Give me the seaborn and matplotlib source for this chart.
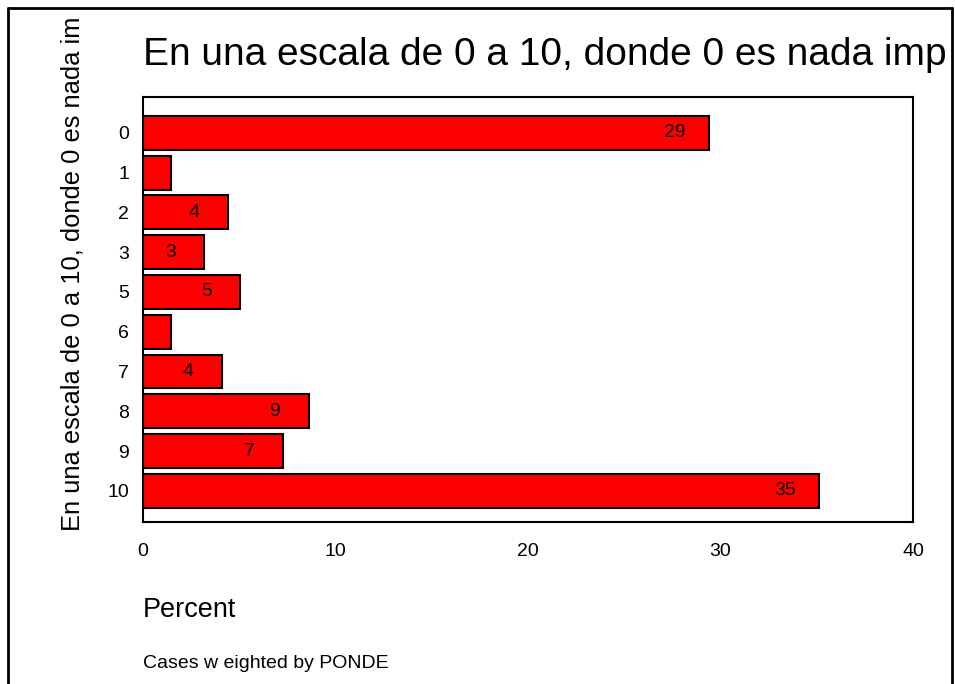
import matplotlib
matplotlib.use("Agg")
import matplotlib.pyplot as plt
import seaborn as sns
from matplotlib.transforms import Bbox

# data
categories = ['0', '1', '2', '3', '5', '6', '7', '8', '9', '10']
percents = [29.4, 1.45, 4.4, 3.17, 5.04, 1.45, 4.1, 8.6, 7.26, 35.1]
bar_labels = ['29', '', '4', '3', '5', '', '4', '9', '7', '35']
title_text = 'En una escala de 0 a 10, donde 0 es nada imp'
ylabel_text = 'En una escala de 0 a 10, donde 0 es nada im'

sns.set_style('white')
plt.rcParams['font.family'] = ['Liberation Sans', 'DejaVu Sans']
plt.rcParams['text.color'] = 'black'
plt.rcParams['xtick.color'] = 'black'
plt.rcParams['ytick.color'] = 'black'

fig = plt.figure(figsize=(9.55, 6.84), dpi=100)
ax = fig.add_axes([143 / 955, 1 - 522 / 684, (913 - 143) / 955, (522 - 97) / 684])

sns.barplot(x=percents, y=categories, orient='h', color='#ff0000', saturation=1,
            edgecolor='black', linewidth=1.5, width=0.85, ax=ax)

# value labels sit inside the bar end
for i, (v, lab) in enumerate(zip(percents, bar_labels)):
    if lab:
        ax.text(v - 1.75, i, lab, ha='center', va='center', fontsize=14, color='black')

ax.set_xlim(0, 40)
ax.set_ylim(9.78, -0.9)
ax.set_xticks([0, 10, 20, 30, 40])
ax.set_xlabel('')
ax.set_ylabel('')
ax.tick_params(axis='both', which='both', direction='out', length=7, width=1.5,
               labelsize=14, colors='black')
ax.tick_params(axis='y', pad=3)
ax.tick_params(axis='x', pad=8)
for s in ax.spines.values():
    s.set_visible(True)
    s.set_color('black')
    s.set_linewidth(1.5)

# outer frame of the chart, bottom is off the picture
clip = Bbox.from_extents(8, 0, 952, 684 - 8)
fig.add_artist(plt.Line2D([8 / 955, 8 / 955], [0, 1 - 8 / 684], transform=fig.transFigure,
                          color='black', lw=2))
fig.add_artist(plt.Line2D([8 / 955, 952 / 955], [1 - 8 / 684, 1 - 8 / 684],
                          transform=fig.transFigure, color='black', lw=2))
fig.add_artist(plt.Line2D([952 / 955, 952 / 955], [0, 1 - 8 / 684], transform=fig.transFigure,
                          color='black', lw=2))

t = fig.text(143 / 955, 1 - 65 / 684, title_text, fontsize=28, ha='left', va='baseline')
t.set_clip_box(clip)
t.set_clip_on(True)

fig.text(73 / 955, 1 - 531 / 684, ylabel_text, fontsize=18.4, rotation=90,
         ha='center', va='bottom')

fig.text(143 / 955, 1 - 617 / 684, 'Percent', fontsize=19.5, ha='left', va='baseline')
fig.text(143 / 955, 1 - 668 / 684, 'Cases w eighted by PONDE', fontsize=14,
         ha='left', va='baseline')

fig.savefig('out.png', dpi=100)
